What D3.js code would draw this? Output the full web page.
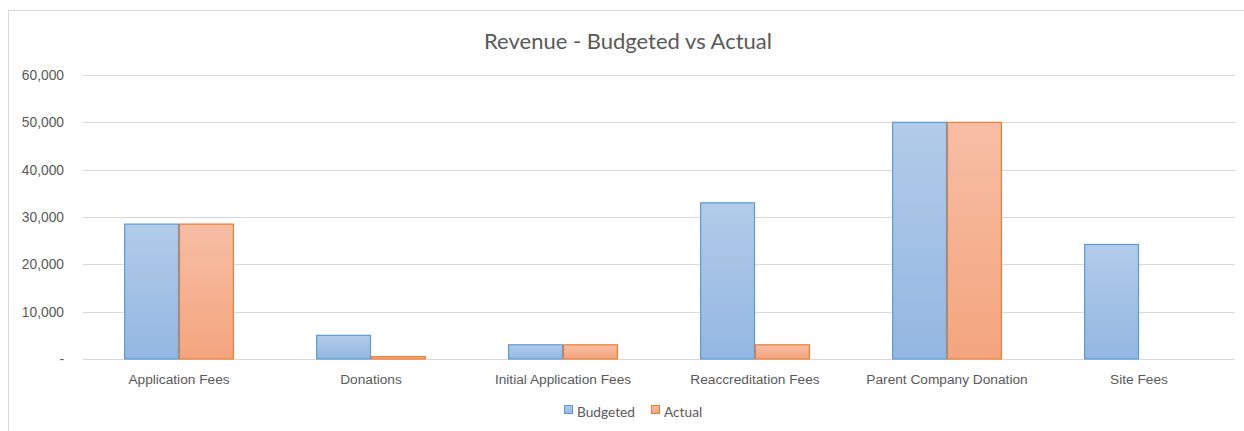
<!DOCTYPE html>
<html>
<head>
<meta charset="utf-8">
<script src="https://cdn.jsdelivr.net/npm/d3@7"></script>
<style>
  body { margin: 0; background: #fff; }
  svg { font-family: Lato, "Open Sans", sans-serif; }
</style>
</head>
<body>
<svg></svg>
<script>
'use strict'

const width = 1244
const height = 431

const categories = ['Application Fees', 'Donations', 'Initial Application Fees',
    'Reaccreditation Fees', 'Parent Company Donation', 'Site Fees']
const series = ['Budgeted', 'Actual']
const budgeted = [28500, 5000, 3000, 33000, 50000, 24200]
const actual = [28500, 500, 3000, 3000, 50000, 0]
const yTicks = [0, 10000, 20000, 30000, 40000, 50000, 60000]

const margin = { top: 75, right: 9, bottom: 72, left: 83 }

const svg = d3.select('svg').attr('width', width).attr('height', height)

// chart frame
svg.append('rect')
    .attr('x', 8.5).attr('y', 10.5)
    .attr('width', width).attr('height', height)
    .attr('fill', 'none').attr('stroke', '#d9d9d9')

const defs = svg.append('defs')
const grads = [
    { id: 'g-blue', top: '#b2cbe9', bottom: '#93b7e2' },
    { id: 'g-orange', top: '#f7bea5', bottom: '#f4a57e' }
]
grads.forEach(g => {
    const lg = defs.append('linearGradient').attr('id', g.id)
        .attr('x1', 0).attr('y1', 0).attr('x2', 0).attr('y2', 1)
    lg.append('stop').attr('offset', '0%').attr('stop-color', g.top)
    lg.append('stop').attr('offset', '100%').attr('stop-color', g.bottom)
})
const fills = ['url(#g-blue)', 'url(#g-orange)']
const strokes = ['#5b9bd5', '#ed7d31']

const x = d3.scaleBand().domain(categories)
    .range([margin.left, width - margin.right])
const x1 = d3.scaleBand().domain(series)
    .range([0, x.bandwidth()]).paddingOuter(0.75)
const y = d3.scaleLinear().domain([0, 60000])
    .range([height - margin.bottom, margin.top])

// gridlines
svg.append('g')
    .selectAll('line')
    .data(yTicks)
    .join('line')
    .attr('x1', margin.left).attr('x2', width - margin.right)
    .attr('y1', d => Math.round(y(d)) + 0.5).attr('y2', d => Math.round(y(d)) + 0.5)
    .attr('stroke', '#d9d9d9')

// y axis labels
const yAxis = d3.axisLeft(y).tickValues(yTicks).tickSize(0).tickPadding(19)
    .tickFormat(d => d === 0 ? '-' : d3.format(',')(d))
svg.append('g')
    .attr('transform', `translate(${margin.left},0)`)
    .call(yAxis)
    .call(g => g.select('.domain').remove())
    .selectAll('text')
    .attr('fill', '#595959').style('font-size', '13.8px')

// bars
const data = categories.map((c, i) => ({ cat: c, values: [budgeted[i], actual[i]] }))
svg.append('g')
    .selectAll('g')
    .data(data)
    .join('g')
    .attr('transform', d => `translate(${x(d.cat)},0)`)
    .selectAll('rect')
    .data(d => d.values.map((v, k) => ({ key: series[k], k, v })).filter(d => d.v > 0))
    .join('rect')
    .attr('x', d => x1(d.key) + 0.5)
    .attr('width', x1.bandwidth() - 1)
    .attr('y', d => y(d.v))
    .attr('height', d => y(0) - y(d.v))
    .attr('fill', d => fills[d.k])
    .attr('stroke', d => strokes[d.k])
    .attr('stroke-width', 1.2)

// x axis labels
const xAxis = d3.axisBottom(x).tickSize(0).tickPadding(15)
svg.append('g')
    .attr('transform', `translate(0,${y(0)})`)
    .call(xAxis)
    .call(g => g.select('.domain').remove())
    .selectAll('text')
    .attr('fill', '#595959').style('font-size', '13.7px')

// title
svg.append('text')
    .attr('x', 628).attr('y', 49)
    .attr('text-anchor', 'middle')
    .attr('fill', '#595959')
    .style('font-size', '22px')
    .text('Revenue - Budgeted vs Actual')

// legend
const legend = svg.append('g').attr('transform', 'translate(564,412)')
const items = legend.selectAll('g')
    .data(series)
    .join('g')
    .attr('transform', (d, i) => `translate(${i * 87},0)`)
items.append('rect')
    .attr('x', 0.5).attr('y', -6.5).attr('width', 8).attr('height', 8)
    .attr('fill', (d, i) => fills[i])
    .attr('stroke', (d, i) => strokes[i])
items.append('text')
    .attr('x', 13).attr('y', 0)
    .attr('dy', '0.35em')
    .attr('fill', '#595959')
    .style('font-size', '13.7px')
    .text(d => d)
</script>
</body>
</html>
